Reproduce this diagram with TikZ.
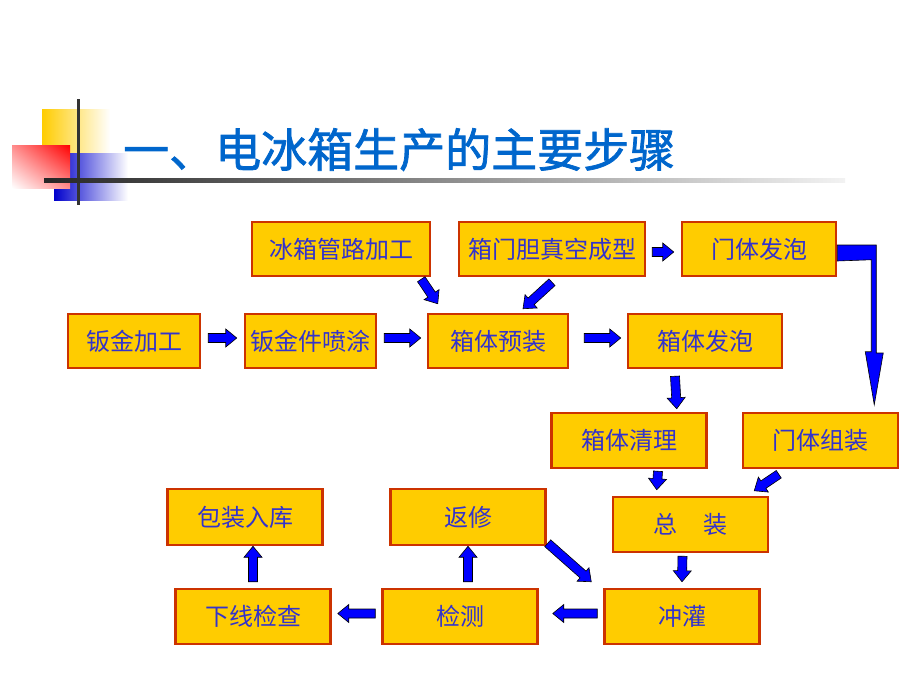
\documentclass[tikz,border=0pt]{standalone}
\usepackage{fontspec}
\newfontfamily\cjk{Noto Sans CJK SC}
\newfontfamily\cjktitle[FakeBold=1.6]{Noto Sans CJK SC}
\usetikzlibrary{calc,shadings}
\usepackage{xcolor}
\definecolor{boxfill}{HTML}{FFCC00}
\definecolor{boxline}{HTML}{CC3300}
\definecolor{boxtext}{HTML}{3333CC}
\definecolor{titleblue}{HTML}{0066CC}
\definecolor{arrblue}{HTML}{0000FF}

% block arrow: #1 start point, #2 tip
\newcommand{\blk}[2]{%
  \path #1 coordinate (bs) #2 coordinate (be);
  \path ($(be)!11pt!(bs)$) coordinate (bh);
  \filldraw[blkarr] ($(bs)!4.5pt!90:(be)$) -- ($(bh)!4.5pt!90:(be)$)
    -- ($(bh)!9pt!90:(be)$) -- (be) -- ($(bh)!9pt!-90:(be)$)
    -- ($(bh)!4.5pt!-90:(be)$) -- ($(bs)!4.5pt!-90:(be)$) -- cycle;
}

\begin{document}
\begin{tikzpicture}
[x=1pt, y=-1pt,
% The step style is used for every box of the process
stepbox/.style={rectangle, draw=boxline, line width=2.5pt, fill=boxfill, text=boxtext,
  minimum width=155pt, minimum height=55pt, inner sep=0pt, font=\cjk\fontsize{24}{28}\selectfont},
% The blkarr style is used for the blue block arrows
blkarr/.style={fill=arrblue, draw=black, line width=0.6pt, line join=miter}
]
\useasboundingbox (0,0) rectangle (920,690);

% Title decoration
\shade[left color=boxfill, middle color=boxfill, right color=white] (42,110) rectangle (110,153);
\shade[left color=arrblue!80!black, middle color=arrblue!80!black, right color=white] (54,153) rectangle (128,200);
\shade[upper right=red, upper left=red!45!white, lower right=red!45!white, lower left=white] (12,145) rectangle (70,188);
\fill[black!80] (76.5,99) rectangle (79.5,205);
\shade[left color=black!85, right color=black!5] (44,178.5) rectangle (845,182);
\node[anchor=base west, inner sep=0pt, text=titleblue, font=\cjktitle\fontsize{46}{50}\selectfont] (title) at (123,167) {一、电冰箱生产的主要步骤};

% Draw steps
\node [stepbox, minimum width=178pt, minimum height=54pt] (guanlu) at (341,249) {冰箱管路加工};
\node [stepbox, minimum width=186pt, minimum height=54pt] (zhenkong) at (552,249) {箱门胆真空成型};
\node [stepbox, minimum width=154pt, minimum height=54pt] (menfapao) at (759,249) {门体发泡};
\node [stepbox, minimum width=132pt, minimum height=54pt] (banjin) at (134,341) {钣金加工};
\node [stepbox, minimum width=131pt, minimum height=54pt] (pentu) at (310.5,341) {钣金件喷涂};
\node [stepbox, minimum width=140pt, minimum height=54pt] (yuzhuang) at (498,341) {箱体预装};
\node [stepbox, minimum width=154pt, minimum height=54pt] (xiangfapao) at (705,341) {箱体发泡};
\node [stepbox] (qingli) at (629,440.5) {箱体清理};
\node [stepbox] (menzuzhuang) at (820.5,440.5) {门体组装};
\node [stepbox] (zongzhuang) at (690.5,524.5) {总\hspace{1.1em}装};
\node [stepbox] (chongguan) at (682,616.5) {冲灌};
\node [stepbox] (jiance) at (460,616.5) {检测};
\node [stepbox] (xiaxian) at (253,616.5) {下线检查};
\node [stepbox, minimum height=56pt] (baozhuang) at (245,517) {包装入库};
\node [stepbox, minimum height=56pt] (fanxiu) at (468,517) {返修};

% Draw arrows
\blk{($(banjin.east)+(7,-3)$)}{($(pentu.west)+(-7,-3)$)}
\blk{($(pentu.east)+(7,-3)$)}{($(yuzhuang.west)+(-6,-3)$)}
\blk{($(yuzhuang.east)+(15,-3)$)}{($(xiangfapao.west)+(-6,-3)$)}
\blk{($(zhenkong.east)+(6,3)$)}{($(menfapao.west)+(-7,3)$)}
\blk{($(guanlu.south east)+(-10,2)$)}{($(yuzhuang.north west)+(11,-9)$)}
\blk{($(zhenkong.south)+(0,5)$)}{($(yuzhuang.north)+(25,-4)$)}
\blk{($(xiangfapao.south)+(-30,7)$)}{($(qingli.north east)+(-31,-3)$)}
\blk{($(qingli.south)+(29,2)$)}{($(zongzhuang.north west)+(45,-6)$)}
\blk{($(menzuzhuang.south west)+(37,5)$)}{($(zongzhuang.north east)+(-15,-5)$)}
\blk{($(zongzhuang.south)+(-8,3)$)}{($(chongguan.north)+(0,-6)$)}
\blk{($(chongguan.west)+(-6,-3)$)}{($(jiance.east)+(14,-3)$)}
\blk{($(jiance.west)+(-6,-3)$)}{($(xiaxian.east)+(6,-3)$)}
\blk{($(xiaxian.north)+(0,-6)$)}{($(baozhuang.south)+(8,0)$)}
\blk{($(jiance.north)+(8,-6)$)}{($(fanxiu.south)+(0,0)$)}
\blk{($(fanxiu.south east)+(1,-3)$)}{($(chongguan.north west)+(-12,-6)$)}
% elbow arrow from door foaming down to door assembly
\filldraw[blkarr] ($(menfapao.east)+(0,-4)$) -- ++(39,0) -- ++(0,108) -- ++(7,0)
  -- ($(menzuzhuang.north east)+(-25,-7)$) -- ++(-9,-53) -- ++(6,0) -- ++(0,-92)
  -- ($(menfapao.east)+(0,12)$) -- cycle;
\end{tikzpicture}
\end{document}
